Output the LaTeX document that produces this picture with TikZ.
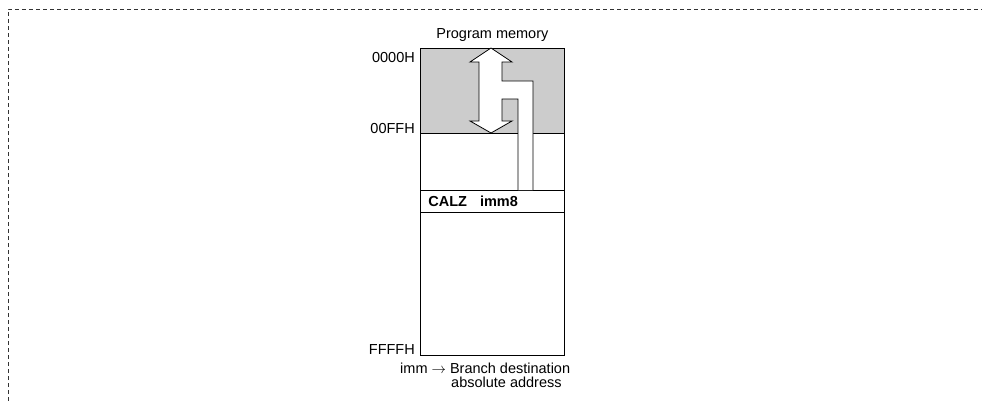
\documentclass[tikz,border=0pt]{standalone}
\usepackage{fontspec}
\setmainfont{Liberation Sans}
\usetikzlibrary{positioning, calc}
\definecolor{memgray}{RGB}{204,204,204}

\begin{document}
\begin{tikzpicture}[x=1pt, y=-1pt,
  membox/.style={rectangle, draw=black, line width=0.8pt, minimum width=144pt, inner sep=0pt},
  lbl/.style={font=\fontsize{14.5}{15}\selectfont, inner sep=0pt},
  frame/.style={draw=black!80, line width=0.8pt, dash pattern=on 4pt off 3pt},
  branch/.style={draw=black, line width=0.8pt, fill=white, line join=miter}
]
\useasboundingbox (0,0) rectangle (982,401);

% dashed frame
\draw [frame] (8,401) -- (8,9) -- (982,9);

% memory map
\node (mem) [membox, minimum height=307pt, anchor=north west] at (420,48) {};
\node (page) [membox, minimum height=85pt, fill=memgray, anchor=north west] at (mem.north west) {};
\node (calz) [membox, minimum height=22pt, fill=white, anchor=north west, text width=128pt,
  inner xsep=8pt, align=left, font=\fontsize{14.5}{15}\selectfont\bfseries] at (420,190) {CALZ\hspace{13pt}imm8};

% branch arrow
\filldraw [branch] (533,190) -- (533,81) -- (502,81) -- (502,62) -- (512,62) -- (491,48)
  -- (470,62) -- (479,62) -- (479,121) -- (470,121) -- (491,133) -- (512,121)
  -- (502,121) -- (502,99) -- (518,99) -- (518,190);

% labels
\node (title) [lbl, above=6pt of mem.north] {Program memory};
\node (adrtop) [lbl, anchor=north east] at ($(mem.north west)+(-5,4)$) {0000H};
\node (adrpage) [lbl, anchor=base east] at ($(page.south west)+(-5,-0.5)$) {00FFH};
\node (adrend) [lbl, anchor=base east] at ($(mem.south west)+(-5,-1)$) {FFFFH};
\node (imm) [lbl, anchor=base west] at ($(mem.south west)+(-20,18)$) {imm $\rightarrow$ Branch destination};
\node (absadr) [lbl, anchor=base west] at ($(imm.base west)+(51,13.5)$) {absolute address};

\end{tikzpicture}
\end{document}
